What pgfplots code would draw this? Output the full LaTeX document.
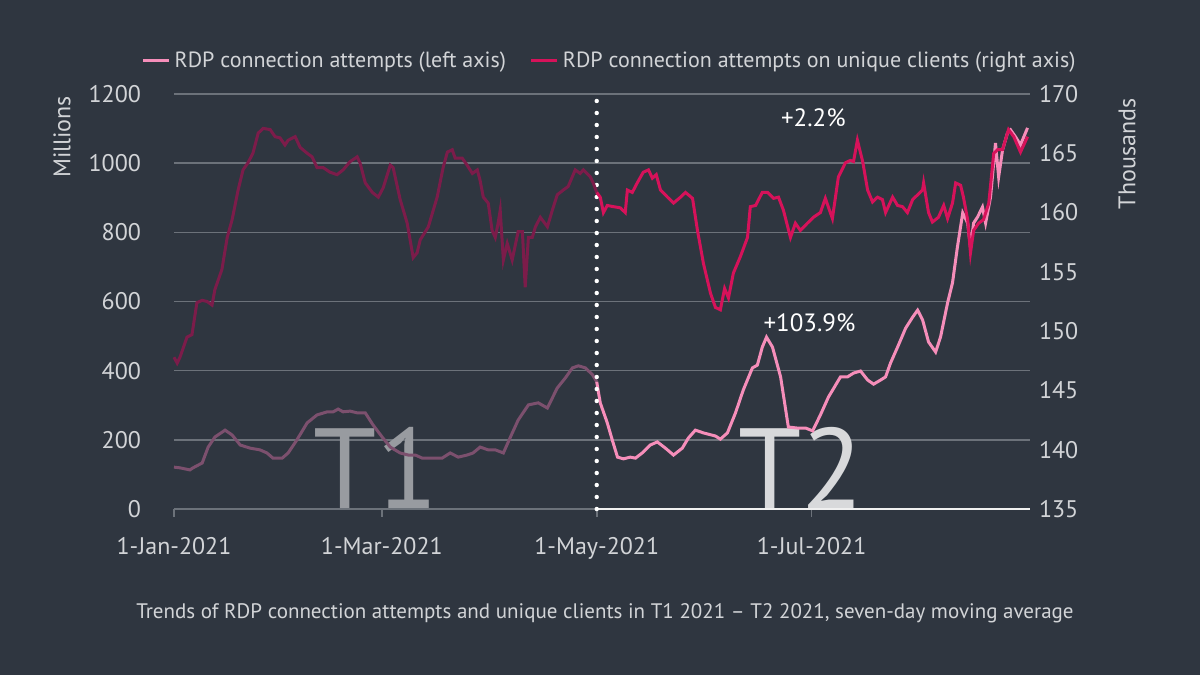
\documentclass[border=0pt]{standalone}
\usepackage{fontspec}
\setmainfont{PT Sans}
\usepackage{pgfplots}
\pgfplotsset{compat=1.18}

\definecolor{bg}{RGB}{47,54,64}
\definecolor{gridc}{RGB}{108,114,122}
\definecolor{ticktext}{RGB}{210,212,215}
\definecolor{pinkA}{RGB}{124,80,110}   % left axis, T1
\definecolor{pinkB}{RGB}{246,142,186}  % left axis, T2
\definecolor{crimA}{RGB}{124,28,74}    % right axis, T1
\definecolor{crimB}{RGB}{214,18,90}    % right axis, T2
\definecolor{tone}{RGB}{152,155,160}
\definecolor{ttwo}{RGB}{216,217,219}

% x = days since 1-Jan-2021
\pgfplotsset{
  base/.style={
    at={(87pt,83pt)}, anchor=south west,
    scale only axis, width=428pt, height=207.5pt,
    xmin=0, xmax=243,
    axis line style={draw=none},
    clip=false,
    /pgf/number format/assume math mode=true,
    /pgf/number format/1000 sep={},
    ticklabel style={font=\fontsize{12}{14}\selectfont, text=ticktext},
    ytick style={draw=none},
  }
}

\begin{document}
\begin{tikzpicture}
\fill[bg] (0,0) rectangle (600pt,337.5pt);
\path[use as bounding box] (0,0) rectangle (600pt,337.5pt);

% left axis: grid, ticks, legend, left series
\begin{axis}[base,
    ymin=0, ymax=1200, ytick={0,200,...,1200},
    ytick pos=left,
    yticklabel style={xshift=-9pt},
    ymajorgrids, grid style={gridc, line width=0.8pt},
    xtick={0,59,120,181},
    xticklabels={1-Jan-2021,1-Mar-2021,1-May-2021,1-Jul-2021},
    xtick pos=bottom, tick align=outside,
    x tick style={gridc, line width=0.8pt},
    major tick length=4pt,
    xticklabel style={yshift=-6.5pt},
    legend columns=2,
    legend style={at={(0.51,1.08)}, anchor=center, draw=none, fill=none,
      text=ticktext, font=\fontsize{11}{12}\selectfont,
      /tikz/every even column/.append style={column sep=10pt}},
    legend image code/.code={\draw[#1] (0pt,0pt) -- (13pt,0pt);},
  ]
  \node[anchor=base west, text=tone, font=\fontsize{57}{60}\selectfont, inner sep=0pt, text depth=0pt] at (axis cs:39.5,0) {T1};
  \node[anchor=base west, text=ttwo, font=\fontsize{57}{60}\selectfont, inner sep=0pt, text depth=0pt] at (axis cs:160,0) {T2};
  \draw[white!88!gray, line width=1pt] (axis cs:120,0) -- (axis cs:243,0);

  \addplot[pinkA, line width=1.5pt, forget plot] coordinates {
    (0,121)(1.7,119)(4.5,113)(5.4,119)(8,133)(9.7,179)(11.6,208)(14.5,228)
    (16.5,214)(18.8,185)(21.6,176)(24.4,171)(26.4,162)(28.1,147)(30.7,147)
    (32.4,162)(34.9,200)(37.8,249)(40.6,272)(43.5,281)(45.2,281)(46.6,289)
    (48,281)(50,283)(52,278)(54.3,278)(56.5,243)(59.1,208)(61.4,179)(64.2,162)
    (66.5,156)(68.5,156)(70.5,147)(72.7,147)(76.1,147)(78.4,162)(80.7,150)
    (83.2,156)(84.9,162)(86.9,179)(89.2,171)(91.2,171)(93.5,162)(95.5,208)
    (97.7,257)(100.6,301)(103.4,307)(106,292)(108.8,350)(111.1,379)(113.1,408)
    (114.8,414)(116.8,408)(118.8,388)(120,368)
  };
  \addplot[pinkB, line width=1.5pt] coordinates {
    (120,368)(121,307)(123,249)(124.4,200)(125.9,150)(127.6,145)(129.5,150)
    (131,147)(132.9,162)(135.2,185)(137.2,194)(139.5,176)(141.8,156)(144.3,176)
    (146,205)(148,228)(150.3,220)(153.7,211)(155.1,202)(157.1,220)(159.4,278)
    (161.6,344)(164.2,408)(165.6,416)(167,468)(168.2,497)(169.9,468)(172.2,382)
    (174.4,237)(177,234)(179.3,234)(181.3,226)(183.5,272)(185.8,324)(189.2,382)
    (191.2,382)(192.9,393)(194.9,399)(196.9,373)(198.6,361)(200.6,373)(202,382)
    (203.4,422)(205.4,468)(207.7,523)(209.7,555)(211.1,575)(212.5,547)(214.2,483)
    (216.2,454)(217.6,497)(219.6,596)(221,654)(222.4,758)(223.9,856)(225.3,827)
    (226.1,758)(227,827)(228.1,844)(229.5,873)(230.4,827)(231.8,902)(233.2,1058)
    (234.1,960)(235.2,1038)(236.6,1087)(237.5,1096)(238.9,1076)(240.3,1053)
    (242.3,1102)
  };
  \addlegendentry{RDP connection attempts (left axis)}
  \addlegendimage{crimB, line width=1.5pt}
  \addlegendentry{RDP connection attempts on unique clients (right axis)}

  \draw[white, line width=2.2pt, line cap=round, dash pattern=on 0pt off 6pt]
    (axis cs:120,0) -- (axis cs:120,1200);
  \node[text=white, font=\fontsize{12.5}{14}\selectfont] at (axis cs:181.5,1131) {+2.2\%};
  \node[text=white, font=\fontsize{12.5}{14}\selectfont] at (axis cs:180.4,538) {+103.9\%};
\end{axis}

% right axis: unique clients
\begin{axis}[base,
    ymin=135, ymax=170, ytick={135,140,...,170},
    ytick pos=right,
    yticklabel style={xshift=1pt},
    xtick=\empty,
  ]
  \addplot[crimA, line width=1.5pt] coordinates {
    (0,147.8)(0.9,147.3)(1.7,147.8)(3.7,149.5)(5.1,149.7)(6.5,152.4)(8,152.6)
    (9.4,152.5)(10.8,152.2)(11.6,153.5)(13.6,155.2)(15.1,157.9)(16.5,159.4)
    (18.2,161.9)(19.6,163.6)(21,164.2)(22.4,165)(23.9,166.7)(25.3,167.1)
    (27.3,167)(28.7,166.4)(30.1,166.3)(31.5,165.7)(32.4,166.1)(34.4,166.4)
    (35.8,165.5)(37.8,165)(39.2,164.7)(40.6,163.8)(42.3,163.8)(44.3,163.4)
    (46.3,163.2)(48,163.6)(50,164.3)(52,164.7)(52.8,164.2)(54.3,162.5)
    (56.3,161.7)(58,161.3)(59.4,162.1)(61.4,164)(62.2,163.8)(64.2,161.1)
    (66.2,159.1)(67.9,156.2)(69,156.6)(69.9,157.7)(72.2,158.8)(74.7,161.3)
    (76.4,163.8)(77.6,165.1)(79,165.3)(79.8,164.6)(81.8,164.6)(83.2,164)
    (84.7,163.3)(86.1,163.6)(86.9,162.7)(87.8,161.3)(89.2,160.8)(90.3,158.5)
    (91.2,157.9)(92,159.1)(92.6,160.2)(93.5,156)(94.6,157.4)(96,156)
    (97.7,158.4)(98.9,158.4)(99.7,153.7)(100.6,157.9)(101.7,157.9)(102.6,158.8)
    (104,159.6)(106,158.8)(107.4,160.2)(108.8,161.5)(110.5,161.9)(111.9,162.2)
    (113.9,163.6)(115.3,163.3)(116.2,163.6)(118.2,163)(119,162.5)(120,161.7)
  };
  \addplot[crimB, line width=1.5pt] coordinates {
    (120,161.7)(121,161.3)(121.9,160)(123,160.6)(124.7,160.5)(126.7,160.4)
    (128.1,160)(128.7,161.9)(130.1,161.7)(131.5,162.5)(133.2,163.4)(134.7,163.6)
    (135.8,162.9)(136.9,163.2)(138.1,161.9)(140.1,161.3)(141.8,160.8)(143.8,161.3)
    (145.2,161.7)(147.2,161.2)(148.6,158.5)(150.3,155.7)(152.3,153.2)(153.7,152)
    (155.1,151.8)(156.3,153.6)(157.4,152.8)(158.8,154.9)(160.8,156.3)(162.8,157.9)
    (163.6,160.5)(165.1,160.6)(167,161.7)(168.5,161.7)(170.2,161.2)(171.6,161.3)
    (173,160.2)(175,157.9)(176.4,159.1)(177.8,158.5)(179.8,159.1)(181.5,159.6)
    (183.5,160)(184.9,161.2)(186.9,159.5)(188.6,163)(190.6,164.2)(192,164.4)
    (192.9,164.3)(194,166.1)(195.5,164.3)(196.9,161.9)(198.3,160.9)(199.7,161.3)
    (201.1,161.1)(202,160)(204,161.3)(205.4,160.6)(206.8,160.5)(208.2,160)
    (209.7,161.1)(211.1,161.5)(212.5,161.9)(212.8,162.5)(214.2,160)(215.3,159.2)
    (217,159.6)(218.5,160.6)(219.6,159.5)(221,160.8)(221.9,162.5)(223.3,162.3)
    (224.1,161.3)(225.3,159.4)(226.1,156.6)(227,158.5)(228.4,159.1)(229.8,159.4)
    (231.3,160.8)(232.7,165)(233.8,165.3)(235.2,165.3)(236.9,167)(238.4,166.4)
    (240.3,165.1)(242.3,166.4)
  };
\end{axis}

\node[rotate=90, text=ticktext, font=\fontsize{12}{14}\selectfont] at (31pt,269pt) {Millions};
\node[rotate=90, text=ticktext, font=\fontsize{12}{14}\selectfont] at (563.5pt,260.5pt) {Thousands};
\node[text=ticktext, font=\fontsize{10.5}{12}\selectfont] at (302.5pt,31pt)
  {Trends of RDP connection attempts and unique clients in T1 2021 -- T2 2021, seven-day moving average};
\end{tikzpicture}
\end{document}
